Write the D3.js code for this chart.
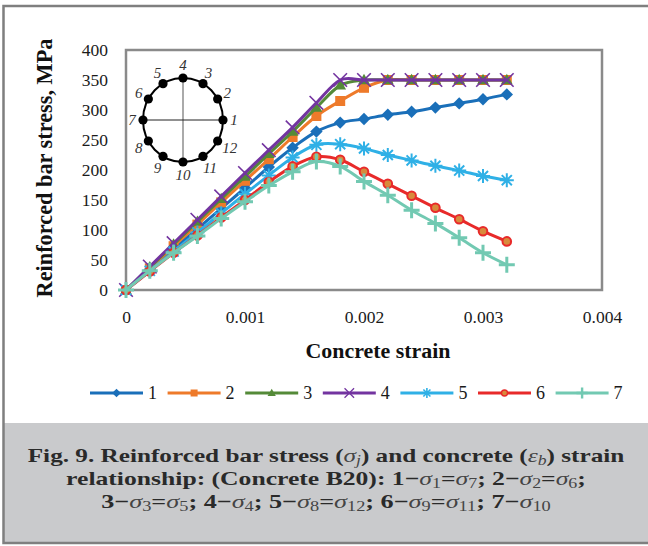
<!DOCTYPE html>
<html><head><meta charset="utf-8">
<script src="https://cdn.jsdelivr.net/npm/d3@7"></script>
<style>
html,body{margin:0;padding:0;background:#fff;}
svg{display:block;}
</style>
</head><body>
<svg id="chart" width="648" height="546"></svg>
<script>
// ---------------- data ----------------
const strain = [0,0.0002,0.0004,0.0006,0.0008,0.001,0.0012,0.0014,0.0016,0.0018,0.002,0.0022,0.0024,0.0026,0.0028,0.003,0.0032];
const s1 = [0,34,68,102,136,170,205,237,264,279,285,292,297,304,311,318,326];
const s2 = [0,36,73,109,146,182,218,255,290,315,337,350,350,350,350,350,350];
const s3 = [0,38,76,114,152,189,227,264,304,341,350,350,350,350,350,350,350];
const s4 = [0,39,78,117,156,195,233,271,312,350,350,350,350,350,350,350,350];
const s5 = [0,32,64,96,128,160,191,221,242,243,236,225,216,207,199,190,183];
const s6 = [0,31,62,91,121,150,180,206,222,217,197,177,157,137,118,98,81];
const s7 = [0,32,62,90,119,147,174,197,214,206,181,158,133,111,87,62,42];
const seriesNames = ["1","2","3","4","5","6","7"];
const xTicks = [0,0.001,0.002,0.003,0.004];
const xTickLabels = ["0","0.001","0.002","0.003","0.004"];
const yTicks = [0,50,100,150,200,250,300,350,400];
const insetLabels = ["1","2","3","4","5","6","7","8","9","10","11","12"];

const seriesValues = [s1,s2,s3,s4,s5,s6,s7];
const colors = ["#1a6fb9","#ee7a2a","#548a38","#7334a0","#2fb0e6","#e82a2a","#72c9b2"];
const markers = ["diamond","square","triangle","x","asterisk","circle","plus"];

const svg = d3.select("#chart");
const serif = "'Liberation Serif', 'DejaVu Serif', serif";

// outer frame & caption box
svg.append("rect").attr("x",3).attr("y",423).attr("width",645).attr("height",120).attr("fill","#c9cacc");
const frame = svg.append("g").attr("stroke","#7f7f7f").attr("stroke-width",2.5).attr("fill","none");
frame.append("path").attr("d","M648,6 L3.5,6 L3.5,543 L648,543");

// scales
const x = d3.scaleLinear().domain([0,0.004]).range([126,602]);
const y = d3.scaleLinear().domain([0,400]).range([290,50]);

// plot border
svg.append("rect").attr("x",126).attr("y",50).attr("width",476).attr("height",240)
  .attr("fill","none").attr("stroke","#8a8a8a").attr("stroke-width",2.5);

// axes (labels only)
const xAxis = d3.axisBottom(x).tickValues(xTicks).tickFormat((d,i)=>xTickLabels[i]).tickSize(0).tickPadding(0);
const gx = svg.append("g").attr("transform","translate(0,311)").call(xAxis);
gx.select(".domain").remove();
gx.selectAll("text").attr("font-family",serif).attr("font-size",17.5).attr("fill","#1a1a1a").attr("dy","0.71em");

const yAxis = d3.axisLeft(y).tickValues(yTicks).tickSize(0).tickPadding(0);
const gy = svg.append("g").attr("transform","translate(108,0)").call(yAxis);
gy.select(".domain").remove();
gy.selectAll("text").attr("font-family",serif).attr("font-size",17.5).attr("fill","#1a1a1a");

function fit(sel, w){
  const n = sel.node(); const L = n.getComputedTextLength();
  const fs = parseFloat(sel.attr("font-size"));
  sel.attr("font-size", fs*w/L);
}

// axis titles
const yt = svg.append("text").attr("transform","translate(52,168) rotate(-90)")
  .attr("text-anchor","middle").attr("font-family",serif).attr("font-weight","bold")
  .attr("font-size",20).attr("fill","#111").text("Reinforced bar stress, MPa");
fit(yt,259);
const xt = svg.append("text").attr("x",378).attr("y",358)
  .attr("text-anchor","middle").attr("font-family",serif).attr("font-weight","bold")
  .attr("font-size",19).attr("fill","#111").text("Concrete strain");
fit(xt,145);

// inset section drawing
const cx=183, cy=120, rx=40, ry=42;
const inset = svg.append("g");
inset.append("line").attr("x1",cx).attr("x2",cx).attr("y1",cy-ry).attr("y2",cy+ry).attr("stroke","#aaa").attr("stroke-width",2);
inset.append("line").attr("x1",cx-rx).attr("x2",cx+rx).attr("y1",cy).attr("y2",cy).attr("stroke","#222").attr("stroke-width",1);
inset.append("ellipse").attr("cx",cx).attr("cy",cy).attr("rx",rx).attr("ry",ry).attr("fill","none").attr("stroke","#000").attr("stroke-width",2);
insetLabels.forEach((lab,i)=>{
  const a = i*Math.PI/6;
  inset.append("circle").attr("cx",cx+rx*Math.cos(a)).attr("cy",cy-ry*Math.sin(a)).attr("r",4.6).attr("fill","#000");
  inset.append("text").attr("x",cx+(rx+11+(lab.length>1?3:0))*Math.cos(a)).attr("y",cy-(ry+13)*Math.sin(a))
    .attr("text-anchor","middle").attr("dy","0.35em").attr("font-family",serif).attr("font-style","italic")
    .attr("font-size",15).attr("fill","#333").text(lab);
});

// marker paths
function markerPath(type, s){
  switch(type){
    case "diamond": return `M0,${-s}L${s},0L0,${s}L${-s},0Z`;
    case "square": return `M${-s},${-s}H${s}V${s}H${-s}Z`;
    case "triangle": return `M0,${-s*1.1}L${s*1.05},${s*0.75}L${-s*1.05},${s*0.75}Z`;
    case "x": return `M${-s},${-s}L${s},${s}M${-s},${s}L${s},${-s}`;
    case "asterisk": { const d=s*0.72; return `M${-s},0H${s}M${-d},${-d}L${d},${d}M${-d},${d}L${d},${-d}M0,${-s}V${s}`; }
    case "plus": return `M${-s},0H${s}M0,${-s}V${s}`;
  }
}
const mSize = {diamond:6.2,square:5,triangle:5.6,x:6.8,asterisk:7,plus:8};
const mStroke = {x:1.6,asterisk:2,plus:3};

function drawMarker(g, type, color, px, py, scale){
  if(type==="circle"){
    g.append("circle").attr("cx",px).attr("cy",py).attr("r",4.3*scale).attr("fill","#d88a3c").attr("stroke",color).attr("stroke-width",2*scale);
    return;
  }
  const p = g.append("path").attr("transform",`translate(${px},${py})`).attr("d",markerPath(type,mSize[type]*scale));
  if(type==="x"||type==="asterisk"||type==="plus") p.attr("fill","none").attr("stroke",color).attr("stroke-width",mStroke[type]*(scale<1?0.8:1));
  else p.attr("fill",color).attr("stroke","none");
}

const line = d3.line().x((d,i)=>x(strain[i])).y(d=>y(d)).curve(d3.curveCardinal);
seriesValues.forEach((vals,k)=>{
  const g = svg.append("g");
  g.append("path").attr("d",line(vals)).attr("fill","none").attr("stroke",colors[k]).attr("stroke-width",3).attr("stroke-linejoin","round");
  vals.forEach((v,i)=> drawMarker(g, markers[k], colors[k], x(strain[i]), y(v), 1));
});

// legend
const legStart = 90, legStep = 77.6, legY = 393;
seriesNames.forEach((name,k)=>{
  const lx = legStart + k*legStep;
  const g = svg.append("g");
  g.append("line").attr("x1",lx).attr("x2",lx+53).attr("y1",legY).attr("y2",legY).attr("stroke",colors[k]).attr("stroke-width",3);
  drawMarker(g, markers[k], colors[k], lx+26.5, legY, 0.7);
  g.append("text").attr("x",lx+58).attr("y",legY).attr("dy","0.35em").attr("font-family",serif)
    .attr("font-size",18).attr("fill","#1a1a1a").text(name);
});

// caption
const capLines = [
  [["Fig. 9. Reinforced bar stress (","b"],["σ","i"],["j","is"],[") and concrete (","b"],["ε","i"],["b","is"],[") strain","b"]],
  [["relationship: (Concrete B20): 1","b"],["−","m"],["σ","i"],["1","s"],["=","m"],["σ","i"],["7","s"],["; 2","b"],["−","m"],["σ","i"],["2","s"],["=","m"],["σ","i"],["6","s"],[";","b"]],
  [["3","b"],["−","m"],["σ","i"],["3","s"],["=","m"],["σ","i"],["5","s"],["; 4","b"],["−","m"],["σ","i"],["4","s"],["; 5","b"],["−","m"],["σ","i"],["8","s"],["=","m"],["σ","i"],["12","s"],["; 6","b"],["−","m"],["σ","i"],["9","s"],["=","m"],["σ","i"],["11","s"],["; 7","b"],["−","m"],["σ","i"],["10","s"]]
];
const capY = [462, 485, 508];
const capW = [597, 520, 450];
capLines.forEach((parts,li)=>{
  const t = svg.append("text").attr("x",0).attr("y",0).attr("text-anchor","middle")
    .attr("font-family",serif).attr("font-size",19.5).attr("fill","#2a2a2a");
  parts.forEach(([txt,st],i)=>{
    const ts = t.append("tspan").text(txt);
    if(st==="b"||st==="m") ts.attr("font-weight","bold");
    if(st==="i") ts.attr("font-style","italic").attr("fill","#444");
    if(st==="is"){ ts.attr("font-style","italic").attr("font-size","0.7em").attr("dy","0.25em").attr("fill","#444"); }
    if(st==="s"){ ts.attr("font-size","0.7em").attr("dy","0.25em").attr("fill","#444"); }
    if(i>0){
      const prevSub = parts[i-1][1]==="s"||parts[i-1][1]==="is";
      const curSub = st==="s"||st==="is";
      if(prevSub && !curSub) ts.attr("dy","-0.175em");
    }
  });
  const L = t.node().getComputedTextLength();
  t.attr("transform",`translate(326,${capY[li]}) scale(${(capW[li]/L).toFixed(4)},1)`);
});
</script>
</body></html>
